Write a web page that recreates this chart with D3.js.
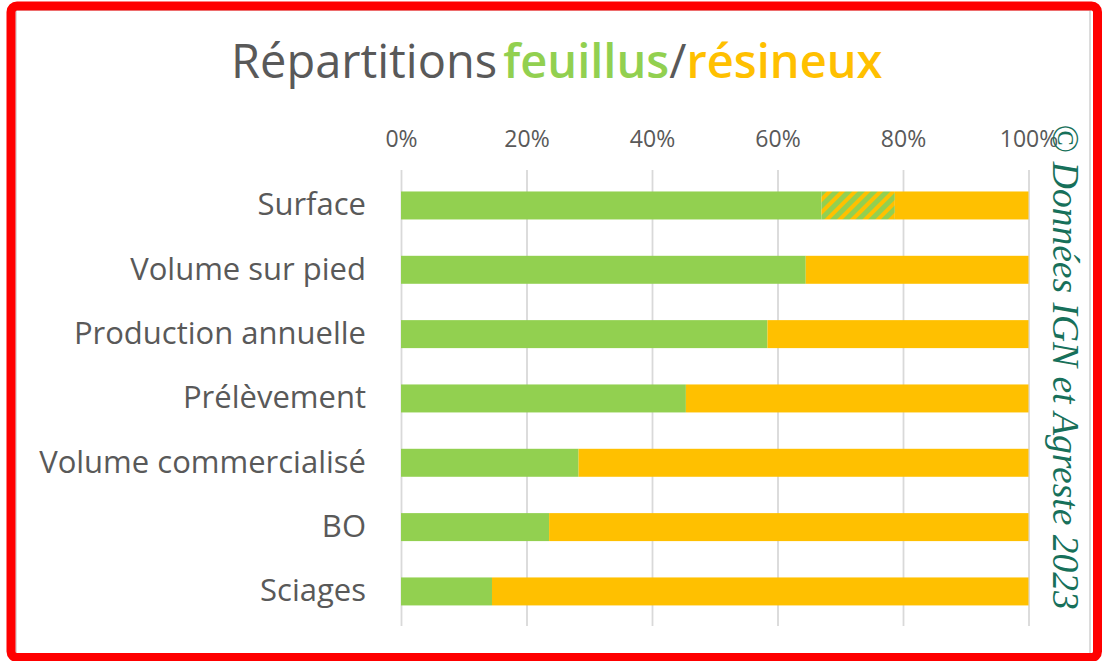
<!DOCTYPE html>
<html lang="fr">
<head>
<meta charset="utf-8">
<script src="https://cdn.jsdelivr.net/npm/d3@7"></script>
<style>
  html, body { margin: 0; padding: 0; background: #ffffff; }
  svg { display: block; }
  .axis text { font-family: "Open Sans", sans-serif; fill: #595959; }
</style>
</head>
<body>
<svg id="chart" width="1102" height="661"></svg>
<script>
const categories = ["Surface", "Volume sur pied", "Production annuelle", "Prélèvement", "Volume commercialisé", "BO", "Sciages"];
const feuillus = [67.0, 64.5, 58.4, 45.4, 28.3, 23.6, 14.5];
const mixte = [11.7, 0, 0, 0, 0, 0, 0];
const resineux = [21.3, 35.5, 41.6, 54.6, 71.7, 76.4, 85.5];
const ticks = [0, 20, 40, 60, 80, 100];

const width = 1102;
const height = 661;
const green = "#92d050";
const orange = "#ffc000";

const svg = d3.select("#chart");

// frame
svg.append("rect").attr("width", width).attr("height", height).attr("fill", "#ffffff");
svg.append("rect")
  .attr("x", 16).attr("y", 10).attr("width", 1074).attr("height", 645)
  .attr("fill", "none").attr("stroke", "#d0d0d0").attr("stroke-width", 1.5);
svg.append("rect")
  .attr("x", 11).attr("y", 6).attr("width", 1086.5).attr("height", 651.5)
  .attr("rx", 6)
  .attr("fill", "none").attr("stroke", "#ff0000").attr("stroke-width", 9);

// hatch for the mixed part
const defs = svg.append("defs");
const pattern = defs.append("pattern")
  .attr("id", "hatch")
  .attr("patternUnits", "userSpaceOnUse")
  .attr("width", 9).attr("height", 9)
  .attr("patternTransform", "rotate(45)");
pattern.append("rect").attr("width", 9).attr("height", 9).attr("fill", green);
pattern.append("rect").attr("width", 4).attr("height", 9).attr("fill", orange);

// title
const title = svg.append("text")
  .attr("x", 231).attr("y", 78)
  .attr("font-family", "'Open Sans', sans-serif")
  .attr("font-size", 47)
  .attr("fill", "#595959");
title.append("tspan").text("Répartitions");
title.append("tspan").attr("dx", 6).attr("fill", green).attr("font-weight", 600).text("feuillus");
title.append("tspan").text("/");
title.append("tspan").attr("fill", orange).attr("font-weight", 600).text("résineux");

const x = d3.scaleLinear().domain([0, 100]).range([401, 1028.5]);
const y = d3.scaleBand()
  .domain(categories)
  .range([173.3, 623.6])
  .paddingInner(0.565)
  .paddingOuter(0.2825);

// gridlines + tick labels
const xAxisGroup = svg.append("g")
  .attr("class", "axis")
  .attr("transform", "translate(0,170)")
  .call(
    d3.axisTop(x)
      .tickValues(ticks)
      .tickSizeInner(-456)
      .tickSizeOuter(0)
      .tickPadding(23)
      .tickFormat((d) => d + "%")
  );
xAxisGroup.select(".domain").remove();
xAxisGroup.selectAll(".tick line").attr("stroke", "#d9d9d9").attr("stroke-width", 1.8);
xAxisGroup.selectAll(".tick text").attr("font-size", 23);

// stacked bars
const rows = categories.map((c, i) => ({
  category: c,
  parts: [
    { key: "feuillus", x0: 0, x1: feuillus[i], fill: green },
    { key: "mixte", x0: feuillus[i], x1: feuillus[i] + mixte[i], fill: "url(#hatch)" },
    { key: "resineux", x0: feuillus[i] + mixte[i], x1: 100, fill: orange },
  ].filter((p) => p.x1 > p.x0),
}));

svg.append("g")
  .selectAll("g")
  .data(rows)
  .join("g")
  .selectAll("rect")
  .data((d) => d.parts.map((p) => ({ ...p, category: d.category })))
  .join("rect")
  .attr("x", (d) => x(d.x0))
  .attr("width", (d) => x(d.x1) - x(d.x0))
  .attr("y", (d) => y(d.category))
  .attr("height", y.bandwidth())
  .attr("fill", (d) => d.fill);

// category labels
const yAxisGroup = svg.append("g")
  .attr("class", "axis")
  .attr("transform", "translate(401,0)")
  .call(d3.axisLeft(y).tickSize(0).tickPadding(35));
yAxisGroup.select(".domain").remove();
yAxisGroup.selectAll(".tick text").attr("font-size", 31);

// source
svg.append("text")
  .attr("transform", "translate(1053,124) rotate(90)")
  .attr("font-family", "'Liberation Serif', 'Times New Roman', serif")
  .attr("font-style", "italic")
  .attr("font-size", 37.5)
  .attr("fill", "#17705a")
  .text("© Données IGN et Agreste 2023");
</script>
</body>
</html>
